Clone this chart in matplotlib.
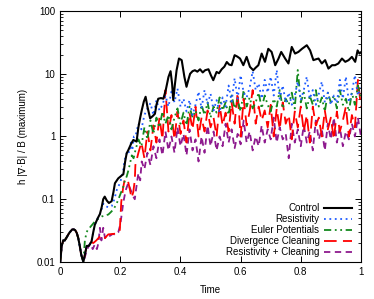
import numpy as np
import matplotlib
matplotlib.use("Agg")
import matplotlib.pyplot as plt
from matplotlib.ticker import FixedLocator, LogLocator, NullFormatter

plt.rcParams['font.family'] = ['Liberation Sans', 'DejaVu Sans']

# ---------------- data ----------------
t_common = [0, 0.005, 0.01, 0.015, 0.02, 0.03, 0.04, 0.045, 0.05, 0.055, 0.06, 0.065, 0.07, 0.077]
v_common = [0.01, 0.018, 0.022, 0.022, 0.024, 0.029, 0.033, 0.033, 0.032, 0.029, 0.024, 0.018, 0.013, 0.01]

t_control = [0.082, 0.088, 0.095, 0.104, 0.11, 0.115, 0.125, 0.132, 0.138, 0.143, 0.148, 0.155, 0.162,
             0.171, 0.177, 0.182, 0.193, 0.205, 0.21, 0.216, 0.221, 0.226, 0.235, 0.243, 0.254, 0.26,
             0.266, 0.271, 0.278, 0.284, 0.29, 0.299, 0.307, 0.315, 0.32, 0.326, 0.335, 0.343, 0.351,
             0.36, 0.367, 0.372, 0.376, 0.381, 0.387, 0.395, 0.404, 0.413, 0.42, 0.426, 0.432, 0.44,
             0.448, 0.456, 0.465, 0.474, 0.482, 0.493, 0.501, 0.509, 0.52, 0.528, 0.537, 0.546, 0.554,
             0.562, 0.57, 0.58, 0.589, 0.598, 0.609, 0.62, 0.631, 0.642, 0.65, 0.659, 0.67, 0.681,
             0.692, 0.703, 0.71, 0.715, 0.726, 0.735, 0.748, 0.759, 0.77, 0.781, 0.792, 0.804, 0.82,
             0.831, 0.842, 0.85, 0.859, 0.87, 0.881, 0.892, 0.904, 0.914, 0.925, 0.937, 0.948, 0.959,
             0.97, 0.981, 0.989, 0.995, 1.0]
v_control = [0.013, 0.018, 0.018, 0.021, 0.03, 0.039, 0.05, 0.058, 0.075, 0.1, 0.11, 0.095, 0.087,
             0.093, 0.13, 0.18, 0.215, 0.24, 0.25, 0.4, 0.54, 0.6, 0.75, 0.88, 0.83, 1.4,
             2.0, 2.6, 3.6, 4.3, 3.0, 1.95, 2.1, 2.3, 3.2, 4.0, 4.1, 4.0, 5.5,
             8.9, 11, 7, 3.8, 6.5, 11.4, 17.5, 16.5, 8.9, 6.2, 8, 10, 11,
             11.4, 10.8, 11.8, 10.5, 11.4, 11.8, 9.5, 7.9, 10.7, 10.2, 11.8, 13, 15.4,
             14, 13.7, 19.8, 18.8, 17.5, 13.7, 18.6, 12.9, 11.4, 12.5, 13.7, 21, 15.5,
             25, 22.3, 17, 13.7, 17.5, 22.3, 17.5, 14.6, 26.8, 21, 22.3, 25, 28.5,
             23.6, 16.5, 17, 17.5, 14.6, 16.5, 12.1, 13.7, 13.7, 14.6, 17.5, 15.5, 16.5,
             18.6, 15.5, 23.6, 21, 22]

t_resist_early = [0.082, 0.088, 0.095, 0.104, 0.11, 0.115, 0.125, 0.132, 0.138, 0.143, 0.149, 0.16,
                  0.171, 0.18, 0.188, 0.196, 0.204, 0.21, 0.214, 0.219, 0.224, 0.23, 0.235, 0.24, 0.245]
v_resist_early = [0.013, 0.018, 0.018, 0.021, 0.03, 0.039, 0.05, 0.058, 0.07, 0.085, 0.077, 0.075,
                  0.077, 0.1, 0.14, 0.17, 0.217, 0.3, 0.42, 0.5, 0.6, 0.55, 0.8, 0.6, 1.0]
v_resist_late = [1.0, 1.6, 1.3, 2.2, 2.8, 3.4, 2.2, 3.8, 2.6, 3.2, 4.5, 3.0, 5.2, 3.5, 5.8, 3.0,
                 4.0, 2.5, 3.8, 2.2, 3.2, 5.2, 2.8, 5.5, 3.3, 4.8, 2.6, 3.8, 2.4, 4.2, 3.0, 6.5,
                 3.6, 8.5, 4.0, 9.5, 5.0, 4.2, 6.0, 11.0, 5.5, 7.0, 4.0, 8.0, 5.0, 9.0, 4.5, 11.5,
                 4.0, 6.5, 3.5, 5.0, 3.2, 4.5, 7.5, 3.8, 5.5, 9.0, 4.0, 5.5, 3.2, 4.8, 7.5, 3.5,
                 5.0, 3.2, 4.5, 3.4, 8.0, 4.0, 9.0, 3.5, 5.0, 9.5, 4.5, 6.0]

t_euler_early = [0.082, 0.088, 0.093, 0.1, 0.108, 0.115, 0.125, 0.138, 0.15, 0.16, 0.168, 0.176,
                 0.185, 0.193, 0.2, 0.21, 0.215, 0.221, 0.226, 0.232, 0.238, 0.244]
v_euler_early = [0.022, 0.03, 0.033, 0.036, 0.04, 0.044, 0.048, 0.053, 0.055, 0.057, 0.062, 0.068,
                 0.08, 0.098, 0.12, 0.16, 0.2, 0.23, 0.28, 0.37, 0.5, 0.45]
v_euler_late = [0.6, 0.9, 0.7, 1.4, 0.9, 1.8, 1.1, 2.0, 1.4, 2.5, 1.6, 2.2, 1.3, 2.0, 2.8, 1.6,
                2.4, 1.5, 3.0, 2.0, 2.6, 1.8, 3.2, 2.2, 3.5, 2.0, 3.0, 2.4, 4.2, 2.6, 3.5, 2.2,
                4.5, 2.8, 3.8, 2.5, 5.5, 3.0, 4.2, 2.8, 3.5, 5.0, 2.8, 4.5, 3.2, 2.5, 4.0, 3.0,
                5.5, 2.8, 4.0, 3.2, 5.0, 2.8, 11.5, 3.5, 5.0, 2.8, 4.5, 3.2, 5.5, 3.0, 4.2, 2.5,
                5.0, 3.5, 4.5, 2.8, 5.5, 3.2, 4.0, 2.5, 5.0, 3.2, 6.5, 4.0]

t_diverg_early = [0.082, 0.088, 0.095, 0.1, 0.11, 0.12, 0.127, 0.135, 0.143, 0.149, 0.155, 0.16,
                  0.193, 0.198, 0.203, 0.209, 0.214, 0.224, 0.232, 0.237, 0.243, 0.248]
v_diverg_early = [0.013, 0.018, 0.02, 0.021, 0.02, 0.022, 0.024, 0.026, 0.027, 0.024, 0.026, 0.0275,
                  0.0285, 0.031, 0.09, 0.15, 0.2, 0.21, 0.14, 0.105, 0.13, 0.2]
v_diverg_late = [0.35, 0.55, 0.8, 0.45, 1.2, 0.6, 1.5, 0.8, 2.0, 0.9, 5.5, 1.2, 2.2, 0.9, 2.5, 1.1,
                 1.8, 0.8, 2.4, 1.3, 3.0, 1.0, 2.0, 1.2, 2.6, 1.4, 2.0, 1.0, 3.2, 1.5, 2.4, 1.2,
                 3.5, 1.6, 5.0, 1.0, 4.0, 1.5, 2.5, 5.5, 1.6, 3.0, 1.8, 2.6, 1.4, 3.2, 1.0, 2.8,
                 1.3, 3.5, 1.6, 2.2, 0.9, 2.5, 1.4, 3.0, 1.2, 2.2, 0.8, 3.0, 1.5, 2.0, 1.0, 2.6,
                 1.3, 2.0, 0.9, 2.5, 1.2, 1.8, 3.0, 1.0, 2.2, 1.4, 8.0, 3.0]

t_resclean_early = [0.082, 0.09, 0.1, 0.108, 0.115, 0.122, 0.127, 0.132, 0.137, 0.143, 0.149, 0.155,
                    0.165, 0.175, 0.185, 0.193, 0.2, 0.21, 0.218, 0.226, 0.232, 0.237, 0.243, 0.248,
                    0.255, 0.26, 0.266, 0.271]
v_resclean_early = [0.012, 0.016, 0.02, 0.016, 0.019, 0.016, 0.02, 0.035, 0.022, 0.035, 0.024, 0.027,
                    0.026, 0.028, 0.027, 0.0295, 0.04, 0.09, 0.14, 0.18, 0.15, 0.13, 0.11, 0.1,
                    0.18, 0.26, 0.2, 0.4]
v_resclean_late = [0.3, 0.55, 0.35, 0.7, 0.45, 0.9, 0.5, 1.2, 0.6, 1.0, 0.55, 1.4, 0.7, 1.1, 0.5,
                   1.3, 0.6, 0.9, 0.4, 1.0, 0.55, 1.5, 0.7, 1.2, 0.6, 1.0, 0.7, 1.6, 0.8, 1.3, 0.65,
                   1.1, 0.75, 1.8, 0.8, 1.2, 0.6, 1.0, 0.7, 1.5, 0.8, 1.3, 0.9, 2.0, 0.8, 1.4, 0.9,
                   1.1, 0.45, 1.6, 0.8, 1.3, 0.7, 1.5, 0.8, 1.2, 0.6, 1.8, 0.9, 1.3, 0.6, 1.6, 0.9,
                   2.0, 0.8, 1.4, 0.7, 1.2, 0.9, 1.6, 1.0, 2.0, 1.0]

t_late = np.round(np.arange(0.25, 1.0001, 0.01), 3)      # 0.25 ... 1.00
t_late_rc = np.round(np.arange(0.28, 1.0001, 0.01), 3)   # 0.28 ... 1.00

labels = ["Control", "Resistivity", "Euler Potentials", "Divergence Cleaning", "Resistivity + Cleaning"]
colors = ["#000000", "#1f5cff", "#14891e", "#ff0000", "#8e1a8e"]

series = [
    (t_common + t_control, v_common + v_control),
    (t_common + t_resist_early + list(t_late), v_common + v_resist_early + v_resist_late),
    (t_common + t_euler_early + list(t_late), v_common + v_euler_early + v_euler_late),
    (t_common + t_diverg_early + list(t_late), v_common + v_diverg_early + v_diverg_late),
    (t_common + t_resclean_early + list(t_late_rc), v_common + v_resclean_early + v_resclean_late),
]
styles = ["-", (0, (1, 2)), (0, (4, 2, 1, 2, 1, 2)), (0, (7, 3.5)), (0, (3.5, 2.5))]
widths = [1.5, 1.3, 1.3, 1.3, 1.3]

# ---------------- plot ----------------
fig = plt.figure(figsize=(3.74, 2.99), dpi=100)
ax = fig.add_axes([0.161, 0.124, 0.804, 0.839])

order = [4, 3, 2, 1, 0]
handles = [None] * 5
for i in order:
    t, v = series[i]
    ln, = ax.plot(t, v, color=colors[i], linestyle=styles[i], lw=widths[i], label=labels[i])
    handles[i] = ln

ax.set_yscale('log')
ax.set_xlim(0, 1)
ax.set_ylim(0.01, 100)
ax.xaxis.set_major_locator(FixedLocator([0, 0.2, 0.4, 0.6, 0.8, 1.0]))
ax.set_xticklabels(["0", "0.2", "0.4", "0.6", "0.8", "1"])
ax.yaxis.set_major_locator(FixedLocator([0.01, 0.1, 1, 10, 100]))
ax.set_yticklabels(["0.01", "0.1", "1", "10", "100"])
ax.yaxis.set_minor_locator(LogLocator(base=10, subs=np.arange(2, 10)))
ax.yaxis.set_minor_formatter(NullFormatter())
ax.tick_params(which='both', direction='in', top=True, right=True, labelsize=7)
ax.tick_params(which='major', length=4, width=0.7)
ax.tick_params(which='minor', length=2, width=0.6)
for s in ax.spines.values():
    s.set_linewidth(0.8)

ax.set_xlabel("Time", fontsize=7, labelpad=6)
ax.set_ylabel("h |\u2207\u00b7B| / B (maximum)", fontsize=7, labelpad=6)

leg = ax.legend(handles=handles, labels=labels, loc='lower right', frameon=False,
                markerfirst=False, fontsize=7, handlelength=2.8, labelspacing=0.1,
                handletextpad=0.5, borderaxespad=0.1, bbox_to_anchor=(0.985, 0.0))
for txt in leg.get_texts():
    txt.set_ha('right')

fig.savefig("out.png", dpi=100)
